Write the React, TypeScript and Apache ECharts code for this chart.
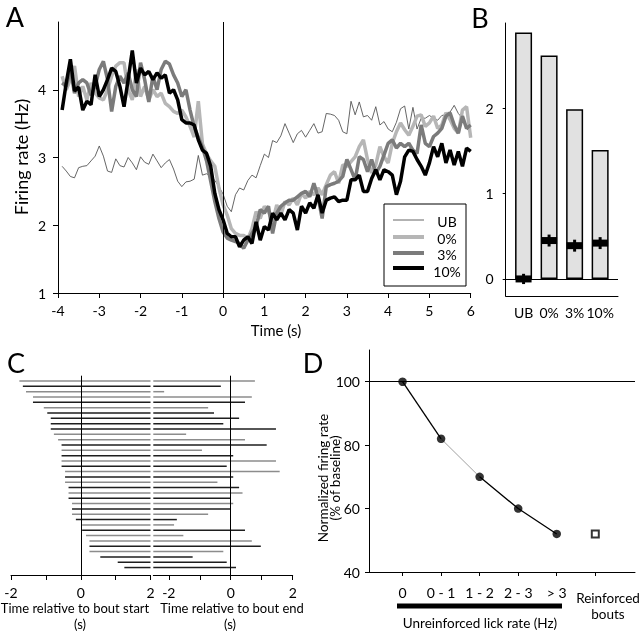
import React, { useEffect, useRef } from "react";
import * as echarts from "echarts";

const FONT = 'Lato, "Open Sans", sans-serif';

// Panel A: firing rate (Hz), 0.1 s bins starting at -3.9 s
const TIME_START = -3.9;
const TIME_STEP = 0.1;
const UB = [
  2.87, 2.8, 2.72, 2.7, 2.85, 2.87, 2.88, 2.95, 3.02, 3.17,
  3.02, 2.8, 2.78, 2.98, 2.88, 2.86, 3.0, 2.92, 2.82, 3.01,
  2.93, 2.9, 3.05, 2.95, 2.85, 2.92, 2.97, 2.83, 2.65, 2.57,
  2.64, 2.65, 2.68, 3.03, 2.74, 2.76, 2.73, 2.66, 2.57, 2.46,
  2.28, 2.2, 2.45, 2.55, 2.52, 2.66, 2.74, 2.7, 2.88, 3.05,
  3.0, 3.25, 3.22, 3.32, 3.5, 3.36, 3.22, 3.35, 3.4, 3.3,
  3.4, 3.5, 3.36, 3.38, 3.65, 3.64, 3.62, 3.55, 3.38, 3.35,
  3.83, 3.63, 3.82, 3.6, 3.62, 3.55, 3.75, 3.48, 3.53, 3.42,
  3.38, 3.52, 3.72, 3.76, 3.42, 3.74, 3.42, 3.58, 3.58, 3.62,
  3.58, 3.55, 3.62, 3.63, 3.67, 3.77, 3.65, 3.58, 3.43, 3.36,
];
const P0 = [
  4.2, 4.0, 4.15, 4.35, 3.9, 4.05, 3.85, 4.1, 3.95, 3.88,
  3.85, 4.0, 4.2, 4.35, 4.4, 4.4, 4.0, 3.85, 4.3, 3.9,
  4.05, 3.85, 4.0, 3.9, 3.95, 3.8, 3.75, 3.68, 3.65, 3.7,
  3.6, 3.46, 3.3, 3.83, 3.2, 3.05, 2.95, 2.87, 2.55, 2.3,
  2.15, 1.95, 1.88, 1.85, 1.85, 1.8, 1.95, 2.2, 2.1, 2.28,
  2.2, 2.05, 2.3, 2.15, 2.35, 2.3, 2.4, 2.3, 2.47, 2.4,
  2.5, 2.45, 2.55, 2.45, 2.6, 2.74, 2.79, 2.62, 2.89, 2.87,
  2.94, 3.01, 3.16, 3.26, 2.97, 2.77, 2.89, 3.16, 3.01, 2.92,
  3.21, 3.38, 3.51, 3.41, 3.33, 3.46, 3.61, 3.63, 3.46, 3.51,
  3.61, 3.43, 3.48, 3.66, 3.56, 3.43, 3.36, 3.7, 3.75, 3.29,
];
const P3 = [
  4.1, 4.05, 4.3, 3.95, 4.1, 4.15, 4.1, 3.92, 4.05, 4.3,
  4.42, 4.15, 3.68, 4.05, 4.2, 4.1, 4.25, 4.0, 3.9, 4.4,
  4.15, 3.82, 4.2, 4.0, 4.3, 4.42, 4.38, 4.22, 4.1, 3.9,
  4.0, 3.7, 3.45, 3.3, 3.15, 2.95, 2.65, 2.35, 2.1, 1.9,
  1.81, 1.78, 1.76, 1.73, 1.66, 1.78, 1.88, 1.98, 2.23, 2.18,
  2.28, 1.88, 2.18, 2.28, 2.33, 2.37, 2.37, 2.42, 2.47, 2.5,
  2.42, 2.62, 2.42, 2.1, 2.57, 2.6, 2.62, 2.65, 2.72, 2.97,
  2.82, 2.67, 3.01, 2.97, 2.79, 2.97, 2.77, 2.87, 3.04, 3.21,
  3.26, 3.14, 3.21, 3.16, 3.21, 3.11, 3.06, 3.48, 3.21, 3.16,
  3.31, 3.36, 3.43, 3.61, 3.66, 3.48, 3.36, 3.61, 3.43, 3.48,
];
const P10 = [
  3.7, 4.1, 4.45, 3.98, 4.04, 3.7, 3.83, 3.78, 4.22, 3.9,
  4.0, 4.15, 4.32, 4.27, 4.05, 3.75, 4.15, 4.58, 4.1, 4.32,
  4.22, 4.27, 4.15, 4.25, 4.17, 4.22, 3.95, 4.0, 3.85, 3.56,
  3.51, 3.51, 3.48, 3.26, 3.11, 3.06, 2.87, 2.47, 2.23, 2.08,
  1.88, 1.83, 1.83, 1.68, 1.78, 1.83, 1.73, 2.05, 1.78, 1.98,
  1.93, 2.18, 2.08, 2.18, 2.08, 2.23, 2.18, 1.93, 2.28, 2.18,
  2.33, 2.25, 2.45, 2.18, 2.37, 2.4, 2.42, 2.35, 2.37, 2.37,
  2.67, 2.67, 2.74, 2.5, 2.5, 2.69, 2.82, 2.67, 2.82, 2.79,
  2.74, 2.45, 2.65, 3.01, 3.11, 3.09, 2.97, 2.87, 2.74, 2.92,
  3.16, 3.01, 3.21, 2.92, 3.11, 2.89, 3.09, 2.87, 3.14, 3.09,
];
const A_X_TICKS = [-4, -3, -2, -1, 0, 1, 2, 3, 4, 5, 6];
const A_Y_TICKS = [1, 2, 3, 4];

// Panel B
const B_CATS = ["UB", "0%", "3%", "10%"];
const B_BARS = [2.89, 2.62, 1.99, 1.51];
const B_MARK = [0.0, 0.45, 0.39, 0.42];
const B_ERR = [0.06, 0.07, 0.07, 0.07];
const B_Y_TICKS = [0, 1, 2];

// Panel C: bouts (rows)
const C_LEFT_START = [
  -1.76, -1.66, -1.57, -1.37, -1.37, -1.06, -0.96, -0.86, -0.86, -0.86, -0.77, -0.65,
  -0.55, -0.55, -0.55, -0.55, -0.55, -0.45, -0.45, -0.45, -0.35, -0.35, -0.35, -0.25,
  -0.25, -0.25, -0.14, 0.04, 0.04, 0.15, 0.25, 0.25, 0.25, 0.56, 1.06, 1.25,
];
const C_LEFT_END = 2;
const C_RIGHT_START = -2.5;
const C_RIGHT_END = [
  0.78, -0.32, -2.15, 0.68, 0.46, -0.73, -0.54, 0.27, -0.24, 1.46, -1.44, 0.46,
  1.16, -0.93, 0.08, 1.46, -0.13, 1.58, 0.08, -0.43, 0.27, 0.38, -0.02, 0.08,
  -0.02, -0.73, -1.74, -1.83, 0.46, -1.53, 0.68, 0.97, -0.24, -1.23, -0.13, 0.17,
];
const C_SHADE = [1, 0, 1, 1, 0, 1, 0, 0, 0, 0, 1, 1, 0, 1, 0, 1, 0, 1, 0, 1, 0, 1, 0, 1, 0, 1, 0, 1, 0, 1, 1, 0, 1, 0, 0, 0];
const C_TICKS = [-2, -1, 0, 1, 2];
const C_LABELS = [-2, 0, 2];

// Panel D
const D_CATS = ["0", "0 - 1", "1 - 2", "2 - 3", "> 3"];
const D_NORM = [100, 82, 70, 60, 52];
const D_REINFORCED = 52;
const D_Y_TICKS = [40, 60, 80, 100];

const axisLineStyle = { show: true, onZero: false, lineStyle: { color: "#000", width: 1 } };
const tickStyle = (values: number[], len = 5) => ({
  show: true,
  length: len,
  customValues: values,
  lineStyle: { color: "#000", width: 1 },
});
const labelStyle = (values: number[], margin: number, size = 13, fmt?: (v: number) => string) => ({
  show: true,
  customValues: values,
  margin,
  color: "#000",
  fontSize: size,
  fontFamily: FONT,
  formatter: fmt,
});

export default function App() {
  const ref = useRef<HTMLDivElement>(null);
  useEffect(() => {
    const chart = echarts.init(ref.current!, null, { renderer: "svg" });
    const time = P10.map((_, i) => +(TIME_START + TIME_STEP * i).toFixed(1));
    const toPts = (arr: number[]) => arr.map((v, i) => [time[i], v]);
    const dPts = D_NORM.map((v, i) => [i, v]);
    const vline = (x: number) => ({
      symbol: "none",
      silent: true,
      label: { show: false },
      lineStyle: { color: "#000", width: 1, type: "solid" },
      data: [{ xAxis: x }],
    });
    const hline = (y: number) => ({
      symbol: "none",
      silent: true,
      label: { show: false },
      lineStyle: { color: "#000", width: 1, type: "solid" },
      data: [{ yAxis: y }],
    });
    const rowLine = (params: any, api: any) => {
      const p1 = api.coord([api.value(0), api.value(1)]);
      const p2 = api.coord([api.value(2), api.value(1)]);
      return {
        type: "line",
        shape: { x1: p1[0], y1: p1[1], x2: p2[0], y2: p2[1] },
        style: { stroke: api.value(3) ? "#8c8c8c" : "#1e1e1e", lineWidth: 1.5 },
      };
    };
    const txt = (text: string, x: number, y: number, size: number, extra: any = {}) => ({
      type: "text",
      x,
      y,
      z: 100,
      rotation: extra.rotation || 0,
      style: {
        text,
        fill: "#000",
        fontSize: size,
        fontFamily: FONT,
        fontWeight: extra.weight || "normal",
        textAlign: "center",
        textVerticalAlign: "middle",
        align: "center",
        verticalAlign: "middle",
        lineHeight: extra.lineHeight,
      },
    });

    const option: any = {
      animation: false,
      textStyle: { fontFamily: FONT },
      grid: [
        { left: 58, top: 22, width: 412.7, height: 271, outerBoundsMode: "none" },
        { left: 505.7, top: 23, width: 112.3, height: 273, outerBoundsMode: "none" },
        { left: 11, top: 375.7, width: 139.5, height: 199.3, outerBoundsMode: "none" },
        { left: 153.3, top: 375.7, width: 139.4, height: 199.3, outerBoundsMode: "none" },
        { left: 369, top: 350, width: 266, height: 222, outerBoundsMode: "none" },
      ],
      xAxis: [
        {
          type: "value", gridIndex: 0, min: -4, max: 6,
          axisLine: axisLineStyle, axisTick: tickStyle(A_X_TICKS), axisLabel: labelStyle(A_X_TICKS, 10, 14),
          splitLine: { show: false },
        },
        {
          type: "value", gridIndex: 1, min: -0.7, max: 3.7,
          axisLine: axisLineStyle, axisTick: { show: false },
          axisLabel: labelStyle([0, 1, 2, 3], 9, 14, (v: number) => B_CATS[Math.round(v)]),
          splitLine: { show: false },
        },
        {
          type: "value", gridIndex: 2, min: -2, max: 2,
          axisLine: axisLineStyle, axisTick: tickStyle(C_TICKS), axisLabel: labelStyle(C_LABELS, 10, 14),
          splitLine: { show: false },
        },
        {
          type: "value", gridIndex: 3, min: -2.5, max: 2,
          axisLine: axisLineStyle, axisTick: tickStyle(C_TICKS), axisLabel: labelStyle(C_LABELS, 10, 14),
          splitLine: { show: false },
        },
        {
          type: "value", gridIndex: 4, min: -0.87, max: 6.03,
          axisLine: axisLineStyle, axisTick: tickStyle([0, 1, 2, 3, 4, 5], 4),
          axisLabel: labelStyle([0, 1, 2, 3, 4], 13, 14, (v: number) => D_CATS[Math.round(v)]),
          splitLine: { show: false },
        },
      ],
      yAxis: [
        {
          type: "value", gridIndex: 0, min: 1, max: 5,
          axisLine: axisLineStyle, axisTick: tickStyle(A_Y_TICKS), axisLabel: labelStyle(A_Y_TICKS, 12, 14),
          splitLine: { show: false },
        },
        {
          type: "value", gridIndex: 1, min: -0.2, max: 3,
          axisLine: axisLineStyle, axisTick: tickStyle(B_Y_TICKS, 3), axisLabel: labelStyle(B_Y_TICKS, 12, 14),
          splitLine: { show: false },
        },
        { type: "value", gridIndex: 2, min: 0, max: 37.4, inverse: true, show: false },
        { type: "value", gridIndex: 3, min: 0, max: 37.4, inverse: true, show: false },
        {
          type: "value", gridIndex: 4, min: 40, max: 110,
          axisLine: axisLineStyle, axisTick: tickStyle(D_Y_TICKS, 4), axisLabel: labelStyle(D_Y_TICKS, 9, 14),
          splitLine: { show: false },
        },
      ],
      series: [
        {
          name: "UB", type: "line", xAxisIndex: 0, yAxisIndex: 0, data: toPts(UB), showSymbol: false,
          lineStyle: { color: "#555", width: 0.9 }, markLine: vline(0),
        },
        { name: "0%", type: "line", xAxisIndex: 0, yAxisIndex: 0, data: toPts(P0), showSymbol: false, lineStyle: { color: "#b6b6b6", width: 3.5 } },
        { name: "3%", type: "line", xAxisIndex: 0, yAxisIndex: 0, data: toPts(P3), showSymbol: false, lineStyle: { color: "#7b7b7b", width: 3.5 } },
        { name: "10%", type: "line", xAxisIndex: 0, yAxisIndex: 0, data: toPts(P10), showSymbol: false, lineStyle: { color: "#000", width: 3.5 } },
        {
          type: "bar", xAxisIndex: 1, yAxisIndex: 1, barWidth: 17,
          data: B_BARS.map((v, i) => [i, v]),
          itemStyle: { color: "#e1e1e1", borderColor: "#000", borderWidth: 1.5 },
          markLine: hline(0),
        },
        {
          type: "custom", xAxisIndex: 1, yAxisIndex: 1, z: 10,
          data: B_MARK.map((v, i) => [i, v, B_ERR[i]]),
          renderItem: (params: any, api: any) => {
            const x = api.value(0), y = api.value(1), e = api.value(2);
            const c = api.coord([x, y]);
            const t = api.coord([x, y + e]);
            const b = api.coord([x, y - e]);
            return {
              type: "group",
              children: [
                { type: "rect", shape: { x: c[0] - 8, y: c[1] - 3.5, width: 16, height: 7 }, style: { fill: "#000" } },
                { type: "rect", shape: { x: c[0] - 1.5, y: t[1], width: 3, height: b[1] - t[1] }, style: { fill: "#000" } },
              ],
            };
          },
        },
        {
          type: "custom", xAxisIndex: 2, yAxisIndex: 2,
          data: C_LEFT_START.map((s, i) => [s, i + 1, C_LEFT_END, C_SHADE[i]]),
          renderItem: rowLine,
          markLine: vline(0),
        },
        {
          type: "custom", xAxisIndex: 3, yAxisIndex: 3,
          data: C_RIGHT_END.map((e, i) => [C_RIGHT_START, i + 1, e, C_SHADE[i]]),
          renderItem: rowLine,
          markLine: vline(0),
        },
        {
          type: "line", xAxisIndex: 4, yAxisIndex: 4, data: dPts.slice(0, 2), showSymbol: false,
          lineStyle: { color: "#000", width: 1.3 }, markLine: hline(100),
        },
        { type: "line", xAxisIndex: 4, yAxisIndex: 4, data: dPts.slice(1, 3), showSymbol: false, lineStyle: { color: "#a0a0a0", width: 1 } },
        { type: "line", xAxisIndex: 4, yAxisIndex: 4, data: dPts.slice(2), showSymbol: false, lineStyle: { color: "#000", width: 1.3 } },
        {
          type: "scatter", xAxisIndex: 4, yAxisIndex: 4, data: dPts, symbol: "circle", symbolSize: 8.5,
          itemStyle: { color: "#000" }, z: 5,
        },
        {
          type: "scatter", xAxisIndex: 4, yAxisIndex: 4, data: [[D_CATS.length, D_REINFORCED]], symbol: "rect", symbolSize: 7,
          itemStyle: { color: "#fff", borderColor: "#000", borderWidth: 2 }, z: 5,
        },
      ],
      graphic: [
        txt("A", 15, 16, 27),
        txt("B", 480, 17, 27),
        txt("C", 16, 362, 27),
        txt("D", 313, 362, 27),
        txt("Firing rate (Hz)", 21, 157, 18, { rotation: Math.PI / 2 }),
        txt("Time (s)", 276, 330, 15),
        {
          type: "rect", z: 99, shape: { x: 384, y: 204, width: 82, height: 82 },
          style: { fill: "#fff", stroke: "#000", lineWidth: 1 },
        },
        { type: "line", z: 100, shape: { x1: 393, y1: 220, x2: 424, y2: 220 }, style: { stroke: "#555", lineWidth: 0.9 } },
        { type: "line", z: 100, shape: { x1: 393, y1: 237, x2: 424, y2: 237 }, style: { stroke: "#b6b6b6", lineWidth: 4 } },
        { type: "line", z: 100, shape: { x1: 393, y1: 253, x2: 424, y2: 253 }, style: { stroke: "#7b7b7b", lineWidth: 4 } },
        { type: "line", z: 100, shape: { x1: 393, y1: 268, x2: 424, y2: 268 }, style: { stroke: "#000", lineWidth: 4 } },
        txt("UB", 447, 221, 14),
        txt("0%", 447, 238, 14),
        txt("3%", 447, 254.5, 14),
        txt("10%", 447, 271, 14),
        txt("Time relative to bout start", 75, 608, 13),
        txt("(s)", 80, 624, 13),
        txt("Time relative to bout end", 232, 608, 13),
        txt("(s)", 230, 624, 13),
        txt("Normalized firing rate\n(% of baseline)", 328.5, 478, 13.5, { rotation: Math.PI / 2, lineHeight: 12 }),
        txt("Reinforced\nbouts", 608, 606, 13.5, { lineHeight: 16 }),
        txt("Unreinforced lick rate (Hz)", 480, 623, 13.5),
        { type: "rect", z: 100, shape: { x: 397, y: 603.5, width: 165, height: 5 }, style: { fill: "#000" } },
      ],
    };
    chart.setOption(option);
    return () => chart.dispose();
  }, []);
  return <div ref={ref} style={{ position: "fixed", left: 0, top: 0, width: 640, height: 635 }} />;
}
